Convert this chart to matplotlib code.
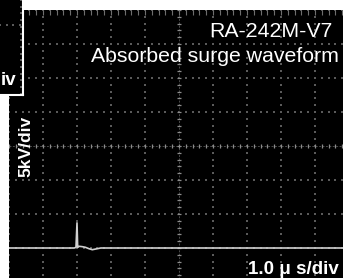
import numpy as np
import matplotlib
matplotlib.use("Agg")
import matplotlib.pyplot as plt

# -----------------------------
# Waveform data (time in us, voltage in kV)
# -----------------------------
t_us = [-5.0, -3.08, -3.03, -3.0, -2.98, -2.94, -2.85, -2.75, -2.65,
        -2.55, -2.45, -2.3, -2.0, 5.0]
v_kv = [-15.0, -15.0, -14.9, -11.3, -14.9, -14.75, -14.8, -14.9, -15.1,
        -15.25, -15.15, -15.0, -15.0, -15.0]

title_model = "RA-242M-V7"
title_desc = "Absorbed surge waveform"
volt_label = "5kV/div"
time_label = "1.0 \u03bc s/div"

# screen: 10 x 8 divisions, 1 us/div, 5 kV/div
X_DIV = 1.0
Y_DIV = 5.0
W, H = 343, 278

plt.rcParams["font.family"] = ["Liberation Sans", "DejaVu Sans"]

fig = plt.figure(figsize=(W / 100, H / 100), dpi=100, facecolor="white")

# main scope screen, slightly larger than the picture at right/bottom
ax = fig.add_axes([9 / W, -4 / H, 340 / W, 272 / H])
ax.set_facecolor("black")
ax.set_xlim(-5 * X_DIV, 5 * X_DIV)
ax.set_ylim(-4 * Y_DIV, 4 * Y_DIV)
ax.set_xticks([])
ax.set_yticks([])
for s in ax.spines.values():
    s.set_visible(False)

# dotted graticule
dot_col = "#5a5a5a"
sub_x = np.arange(-5, 5.01, 0.2) * X_DIV
sub_y = np.arange(-4, 4.01, 0.2) * Y_DIV
for gx in range(-5, 6):
    if gx == 0:
        continue
    ax.scatter(np.full(sub_y.size, gx * X_DIV), sub_y, s=1.1, c=dot_col,
               marker="s", linewidths=0, zorder=1)
for gy in range(-4, 5):
    if gy == 0:
        continue
    ax.scatter(sub_x, np.full(sub_x.size, gy * Y_DIV), s=1.1, c=dot_col,
               marker="s", linewidths=0, zorder=1)

# centre axes with minor ticks
ax.axhline(0, color="#4a4a4a", lw=0.7, ls=(0, (2, 1.5)), zorder=1)
ax.axvline(0, color="#4a4a4a", lw=0.7, ls=(0, (2, 1.5)), zorder=1)
tx = 0.07 * X_DIV
ty = 0.35
ax.vlines(sub_x, -ty, ty, color="#8c8c8c", lw=0.9, zorder=2)
ax.hlines(sub_y, -tx, tx, color="#8c8c8c", lw=0.9, zorder=2)
# ticks along top edge
ax.vlines(sub_x, 4 * Y_DIV - 2 * ty, 4 * Y_DIV, color="#6e6e6e", lw=0.8, zorder=2)

# waveform trace
ax.plot(t_us, v_kv, color="#d0d0d0", lw=1.2, zorder=3)

# labels
fig.text(333 / W, 1 - 37 / H, title_model, color="white", fontsize=15.3,
         ha="right", va="baseline")
fig.text(339 / W, 1 - 62 / H, title_desc, color="white", fontsize=15.3,
         ha="right", va="baseline")
fig.text(26 / W, 1 - 146 / H, volt_label, color="white", fontsize=12.5,
         fontweight="bold", rotation=90, ha="center", va="center")
fig.text(339 / W, 1 - 274 / H, time_label, color="white", fontsize=13.5,
         fontweight="bold", ha="right", va="baseline")

# overlapping corner box from another screen capture
box = fig.add_axes([0, 1 - 95 / H, 23 / W, 95 / H])
box.set_facecolor("black")
box.set_xlim(0, 23)
box.set_ylim(95, 0)
box.set_xticks([])
box.set_yticks([])
for side in ["top", "left"]:
    box.spines[side].set_visible(False)
for side in ["right", "bottom"]:
    box.spines[side].set_color("white")
    box.spines[side].set_linewidth(1.5)
bx = np.arange(0, 22, 6.7)
box.scatter(bx, np.full(bx.size, 25), s=1.1, c=dot_col, marker="s", linewidths=0)
by = np.arange(0, 95, 6.7)
box.scatter(np.full(by.size, 20.5), by, s=1.1, c=dot_col, marker="s", linewidths=0)
box.text(0.5, 85, "iv", color="white", fontsize=13.5, fontweight="bold",
         ha="left", va="baseline")

fig.savefig("out.png", dpi=100, facecolor="white")
